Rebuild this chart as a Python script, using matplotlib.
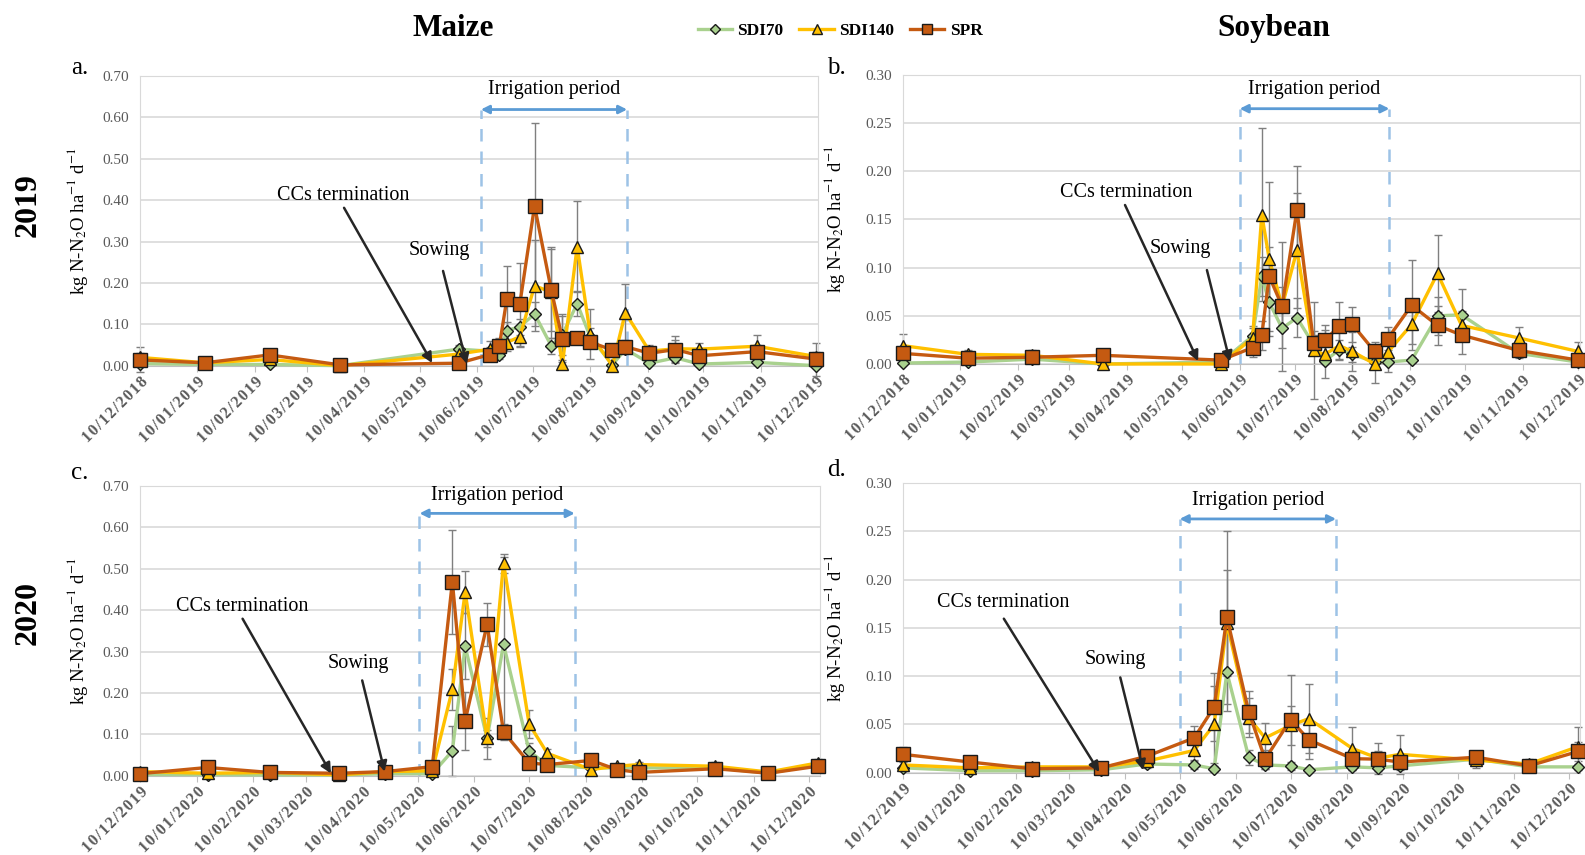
import numpy as np
import pandas as pd
import matplotlib
matplotlib.use('Agg')
import matplotlib.pyplot as plt
import matplotlib.dates as mdates

plt.rcParams['font.family'] = ['Liberation Serif', 'DejaVu Serif']
plt.rcParams['mathtext.fontset'] = 'stix'

# sampling dates
dates_2019 = ['2018-12-10', '2019-01-14', '2019-02-18', '2019-03-28', '2019-05-31', '2019-06-17',
              '2019-06-22', '2019-06-26', '2019-07-03', '2019-07-11', '2019-07-20', '2019-07-26',
              '2019-08-03', '2019-08-10', '2019-08-22', '2019-08-29', '2019-09-11', '2019-09-25',
              '2019-10-08', '2019-11-08', '2019-12-10']
dates_2020 = ['2019-12-10', '2020-01-16', '2020-02-19', '2020-03-28', '2020-04-22', '2020-05-18',
              '2020-05-29', '2020-06-05', '2020-06-17', '2020-06-26', '2020-07-10', '2020-07-20',
              '2020-08-13', '2020-08-27', '2020-09-08', '2020-10-20', '2020-11-18', '2020-12-15']

# a. Maize 2019
maize19_sdi70 = [0.005, 0.003, 0.003, 0.0, 0.04, 0.035, 0.027, 0.085, 0.094, 0.125, 0.048, 0.075,
                 0.15, 0.07, 0.002, 0.04, 0.006, 0.019, 0.004, 0.008, 0.0]
maize19_sdi140 = [0.02, 0.007, 0.015, 0.0, 0.028, 0.04, 0.045, 0.056, 0.07, 0.193, 0.178, 0.003,
                  0.288, 0.077, 0.0, 0.128, 0.035, 0.041, 0.04, 0.047, 0.022]
maize19_spr = [0.014, 0.007, 0.026, 0.002, 0.006, 0.027, 0.048, 0.16, 0.148, 0.386, 0.183, 0.065,
               0.068, 0.057, 0.038, 0.046, 0.030, 0.039, 0.024, 0.034, 0.016]
maize19_sdi70_err = [0.004, 0.002, 0.002, 0.0, 0.01, 0.01, 0.01, 0.02, 0.02, 0.03, 0.02, 0.05,
                     0.03, 0.02, 0.002, 0.01, 0.004, 0.01, 0.004, 0.005, 0.003]
maize19_sdi140_err = [0.01, 0.004, 0.005, 0.0, 0.01, 0.02, 0.02, 0.02, 0.025, 0.11, 0.11, 0.01,
                      0.11, 0.06, 0.003, 0.07, 0.015, 0.02, 0.015, 0.026, 0.01]
maize19_spr_err = [0.03, 0.006, 0.008, 0.004, 0.004, 0.015, 0.02, 0.08, 0.1, 0.2, 0.1, 0.055,
                   0.012, 0.01, 0.01, 0.015, 0.01, 0.033, 0.018, 0.015, 0.04]

# b. Soybean 2019
soy19_sdi70 = [0.001, 0.002, 0.005, 0.0, 0.002, 0.029, 0.091, 0.064, 0.037, 0.048, 0.02, 0.003,
               0.015, 0.01, 0.002, 0.002, 0.004, 0.05, 0.051, 0.011, 0.002]
soy19_sdi140 = [0.019, 0.010, 0.009, 0.0, 0.0, 0.027, 0.155, 0.109, 0.060, 0.118, 0.014, 0.010,
                0.019, 0.013, 0.0, 0.012, 0.041, 0.094, 0.040, 0.027, 0.013]
soy19_spr = [0.011, 0.006, 0.007, 0.009, 0.004, 0.017, 0.030, 0.091, 0.060, 0.160, 0.022, 0.025,
             0.039, 0.041, 0.013, 0.026, 0.061, 0.040, 0.030, 0.014, 0.004]
soy19_sdi70_err = [0.001, 0.002, 0.003, 0.0, 0.002, 0.01, 0.02, 0.03, 0.02, 0.02, 0.01, 0.003,
                   0.01, 0.008, 0.002, 0.002, 0.003, 0.02, 0.027, 0.005, 0.002]
soy19_sdi140_err = [0.012, 0.005, 0.005, 0.0, 0.0, 0.01, 0.09, 0.08, 0.02, 0.06, 0.05, 0.025,
                    0.015, 0.02, 0.02, 0.02, 0.02, 0.04, 0.015, 0.011, 0.01]
soy19_spr_err = [0.008, 0.006, 0.005, 0.007, 0.003, 0.01, 0.015, 0.03, 0.067, 0.045, 0.012, 0.015,
                 0.025, 0.018, 0.01, 0.012, 0.047, 0.02, 0.02, 0.006, 0.003]

# c. Maize 2020
maize20_sdi70 = [0.003, 0.003, 0.002, 0.002, 0.005, 0.005, 0.06, 0.313, 0.09, 0.318, 0.06, 0.025,
                 0.019, 0.019, 0.019, 0.019, 0.006, 0.027]
maize20_sdi140 = [0.010, 0.006, 0.008, 0.002, 0.010, 0.012, 0.209, 0.444, 0.090, 0.514, 0.125, 0.054,
                  0.015, 0.023, 0.027, 0.023, 0.009, 0.031]
maize20_spr = [0.005, 0.020, 0.008, 0.006, 0.010, 0.022, 0.469, 0.133, 0.366, 0.106, 0.031, 0.027,
               0.037, 0.015, 0.008, 0.017, 0.006, 0.023]
maize20_sdi70_err = [0.002, 0.002, 0.002, 0.001, 0.003, 0.004, 0.06, 0.08, 0.02, 0.21, 0.02, 0.01,
                     0.005, 0.005, 0.005, 0.005, 0.003, 0.005]
maize20_sdi140_err = [0.008, 0.006, 0.004, 0.002, 0.005, 0.008, 0.05, 0.05, 0.05, 0.023, 0.035, 0.01,
                      0.008, 0.006, 0.006, 0.01, 0.004, 0.01]
maize20_spr_err = [0.006, 0.015, 0.008, 0.004, 0.004, 0.012, 0.126, 0.07, 0.052, 0.02, 0.012, 0.012,
                   0.016, 0.006, 0.005, 0.01, 0.004, 0.01]

# d. Soybean 2020
soy20_sdi70 = [0.005, 0.002, 0.002, 0.003, 0.009, 0.008, 0.004, 0.104, 0.016, 0.008, 0.007, 0.003,
               0.006, 0.005, 0.007, 0.014, 0.006, 0.006]
soy20_sdi140 = [0.008, 0.005, 0.006, 0.006, 0.012, 0.023, 0.05, 0.155, 0.057, 0.036, 0.049, 0.056,
                0.025, 0.015, 0.019, 0.013, 0.009, 0.027]
soy20_spr = [0.019, 0.011, 0.004, 0.005, 0.017, 0.036, 0.068, 0.161, 0.063, 0.014, 0.055, 0.034,
             0.0145, 0.014, 0.011, 0.016, 0.007, 0.022]
soy20_sdi70_err = [0.003, 0.002, 0.002, 0.002, 0.004, 0.004, 0.003, 0.04, 0.008, 0.004, 0.004, 0.002,
                   0.003, 0.003, 0.003, 0.005, 0.003, 0.003]
soy20_sdi140_err = [0.005, 0.004, 0.004, 0.004, 0.005, 0.01, 0.04, 0.055, 0.02, 0.015, 0.02, 0.036,
                    0.022, 0.016, 0.02, 0.008, 0.005, 0.02]
soy20_spr_err = [0.008, 0.006, 0.003, 0.003, 0.006, 0.012, 0.035, 0.09, 0.022, 0.01, 0.046, 0.02,
                 0.008, 0.008, 0.008, 0.006, 0.004, 0.01]

# irrigation periods
irrig_maize19 = ['2019-06-12', '2019-08-30']
irrig_soy19 = ['2019-06-10', '2019-08-30']
irrig_maize20 = ['2020-05-11', '2020-08-04']
irrig_soy20 = ['2020-05-10', '2020-08-04']

series_names = ['SDI70', 'SDI140', 'SPR']
line_colors = ['#A9D18E', '#FFC000', '#C55A11']
markers = ['D', '^', 's']
marker_sizes = [6, 8.5, 9.5]

panels = [
    dict(rect=[0.0883, 0.5723, 0.4278, 0.3388], dates=dates_2019,
         vals=[maize19_sdi70, maize19_sdi140, maize19_spr],
         errs=[maize19_sdi70_err, maize19_sdi140_err, maize19_spr_err],
         xlim=('2018-12-10', '2019-12-11'), ymax=0.7, ystep=0.1, irrig=irrig_maize19,
         arr_y=0.619, txt_y=0.668, letter='a.', letter_xy=(0.045, 0.921), ylab_x=-0.074,
         cc=((0.299, 0.586), (0.301, 0.545), (0.431, 0.009)),
         sow=((0.441, 0.396), (0.447, 0.327), (0.482, 0.006))),
    dict(rect=[0.5697, 0.5743, 0.4271, 0.338], dates=dates_2019,
         vals=[soy19_sdi70, soy19_sdi140, soy19_spr],
         errs=[soy19_sdi70_err, soy19_sdi140_err, soy19_spr_err],
         xlim=('2018-12-10', '2019-12-11'), ymax=0.3, ystep=0.05, irrig=irrig_soy19,
         arr_y=0.265, txt_y=0.285, letter='b.', letter_xy=(0.522, 0.921), ylab_x=-0.082,
         cc=((0.329, 0.592), (0.328, 0.550), (0.436, 0.010)),
         sow=((0.410, 0.401), (0.449, 0.325), (0.483, 0.008))),
    dict(rect=[0.0883, 0.0927, 0.4288, 0.3388], dates=dates_2020,
         vals=[maize20_sdi70, maize20_sdi140, maize20_spr],
         errs=[maize20_sdi70_err, maize20_sdi140_err, maize20_spr_err],
         xlim=('2019-12-10', '2020-12-16'), ymax=0.7, ystep=0.1, irrig=irrig_maize20,
         arr_y=0.634, txt_y=0.678, letter='c.', letter_xy=(0.045, 0.447), ylab_x=-0.074,
         cc=((0.150, 0.583), (0.151, 0.542), (0.281, 0.008)),
         sow=((0.321, 0.389), (0.327, 0.329), (0.360, 0.014))),
    dict(rect=[0.5697, 0.0963, 0.4271, 0.3385], dates=dates_2020,
         vals=[soy20_sdi70, soy20_sdi140, soy20_spr],
         errs=[soy20_sdi70_err, soy20_sdi140_err, soy20_spr_err],
         xlim=('2019-12-10', '2020-12-16'), ymax=0.3, ystep=0.05, irrig=irrig_soy20,
         arr_y=0.263, txt_y=0.2825, letter='d.', letter_xy=(0.522, 0.450), ylab_x=-0.082,
         cc=((0.148, 0.588), (0.149, 0.532), (0.290, 0.002)),
         sow=((0.314, 0.392), (0.321, 0.329), (0.355, 0.008))),
]


def spaced_date(d, pos=None):
    # letter-spaced dd/mm/yyyy like the original axis labels
    return '\u200a'.join(mdates.num2date(d).strftime('%d/%m/%Y'))


fig = plt.figure(figsize=(15.85, 8.55), dpi=100)
grid_col = '#d9d9d9'
tick_col = '#595959'

for p in panels:
    ax = fig.add_axes(p['rect'])
    x = pd.to_datetime(p['dates'])

    # error bars first, behind the lines
    for v, e in zip(p['vals'], p['errs']):
        ax.errorbar(x, v, yerr=e, fmt='none', ecolor='#7f7f7f', elinewidth=1,
                    capsize=3, capthick=1, zorder=2, clip_on=False)
    for i, v in enumerate(p['vals']):
        ax.plot(x, v, color=line_colors[i], lw=2.4, marker=markers[i], ms=marker_sizes[i],
                mfc=line_colors[i], mec='#1a1a1a', mew=1, zorder=3 + i, clip_on=False,
                label=series_names[i])

    ax.set_xlim(pd.Timestamp(p['xlim'][0]), pd.Timestamp(p['xlim'][1]))
    ax.set_ylim(0, p['ymax'])
    ax.set_yticks(np.arange(0, p['ymax'] + 1e-9, p['ystep']))
    ax.yaxis.set_major_formatter(plt.FormatStrFormatter('%.2f'))
    ax.grid(axis='y', color=grid_col, lw=1.2)
    ax.set_axisbelow(True)
    for s in ['left', 'right', 'top']:
        ax.spines[s].set_color(grid_col)
    ax.spines['bottom'].set_color('#bfbfbf')
    ax.tick_params(axis='y', length=0, labelsize=11, labelcolor=tick_col, pad=8)
    ax.tick_params(axis='x', length=4, color='#bfbfbf', labelsize=11.5, labelcolor=tick_col, pad=2)

    ax.xaxis.set_major_locator(mdates.MonthLocator(bymonthday=10))
    ax.xaxis.set_major_formatter(plt.FuncFormatter(spaced_date))
    for lab in ax.get_xticklabels():
        lab.set_rotation(45)
        lab.set_ha('right')
        lab.set_rotation_mode('anchor')
        lab.set_fontweight('bold')

    ax.set_ylabel(r'kg N-N$_2$O ha$^{-1}$ d$^{-1}$', fontsize=13.5)
    ax.yaxis.set_label_coords(p['ylab_x'], 0.5)

    # irrigation period
    i0, i1 = pd.to_datetime(p['irrig'])
    ax.vlines([i0, i1], 0, p['arr_y'], colors='#9DC3E6', lw=1.8,
              linestyles=(0, (5, 4)), zorder=1)
    ax.annotate('', xy=(i1, p['arr_y']), xytext=(i0, p['arr_y']),
                arrowprops=dict(arrowstyle='<|-|>', color='#5B9BD5', lw=2, mutation_scale=12,
                                shrinkA=0, shrinkB=0))
    ax.text(i0 + (i1 - i0) / 2, p['txt_y'], 'Irrigation period', ha='center', va='center',
            fontsize=14.5)

    # management events
    for label, (txy, a0, a1) in [('CCs termination', p['cc']), ('Sowing', p['sow'])]:
        ax.text(txy[0], txy[1], label, transform=ax.transAxes, ha='center', va='center',
                fontsize=14.5)
        ax.annotate('', xy=a1, xytext=a0, xycoords='axes fraction', textcoords='axes fraction',
                    arrowprops=dict(arrowstyle='-|>', color='#262626', lw=1.8, mutation_scale=15,
                                    shrinkA=0, shrinkB=0), zorder=6)

    fig.text(p['letter_xy'][0], p['letter_xy'][1], p['letter'], fontsize=18, ha='left', va='center')

    if p['letter'] == 'a.':
        handles, labels = ax.get_legend_handles_labels()

fig.legend(handles, labels, loc='center', bbox_to_anchor=(0.530, 0.964), ncol=3, frameon=False,
           prop=dict(weight='bold', size=12.5), handlelength=2.0, handletextpad=0.3,
           columnspacing=0.9, markerscale=0.8)

fig.text(0.286, 0.967, 'Maize', fontsize=22.5, fontweight='bold', ha='center', va='center')
fig.text(0.804, 0.967, 'Soybean', fontsize=22.5, fontweight='bold', ha='center', va='center')
fig.text(0.018, 0.760, '2019', fontsize=23, fontweight='bold', ha='center', va='center', rotation=90)
fig.text(0.018, 0.283, '2020', fontsize=23, fontweight='bold', ha='center', va='center', rotation=90)

fig.savefig('out.png', dpi=100)
